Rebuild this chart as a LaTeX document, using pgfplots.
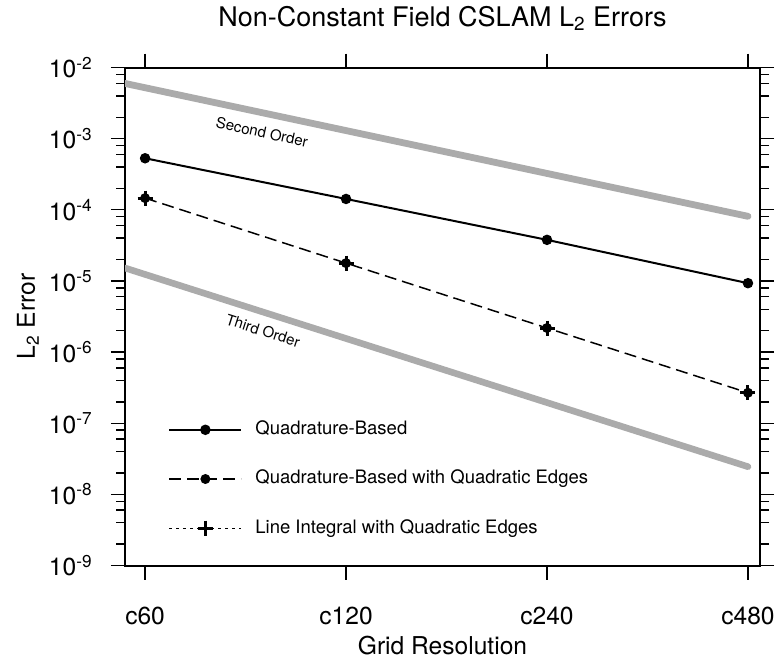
\documentclass[border=0pt]{standalone}
\usepackage{fontspec}
\setmainfont{TeX Gyre Heros}
\usepackage{pgfplots}
\pgfplotsset{compat=1.18}
\definecolor{refgray}{RGB}{171,171,171}

\begin{document}
\begin{tikzpicture}
\path[use as bounding box] (0,0) rectangle (389.5pt,329pt);
\begin{axis}[
  at={(62.5pt,46.25pt)}, anchor=south west,
  scale only axis, width=317.5pt, height=249pt,
  ymode=log, ymin=1e-9, ymax=1e-2,
  xmin=-0.1, xmax=3.06,
  xtick={0,1,2,3}, xticklabels={c60,c120,c240,c480},
  ytick={1e-9,1e-8,1e-7,1e-6,1e-5,1e-4,1e-3,1e-2},
  yticklabels={10\textsuperscript{-9},10\textsuperscript{-8},10\textsuperscript{-7},10\textsuperscript{-6},10\textsuperscript{-5},10\textsuperscript{-4},10\textsuperscript{-3},10\textsuperscript{-2}},
  minor ytick={2e-9,4e-9,6e-9,8e-9,2e-8,4e-8,6e-8,8e-8,2e-7,4e-7,6e-7,8e-7,2e-6,4e-6,6e-6,8e-6,2e-5,4e-5,6e-5,8e-5,2e-4,4e-4,6e-4,8e-4,2e-3,4e-3,6e-3,8e-3},
  tick align=outside,
  xtick pos=both, ytick pos=both,
  major tick length=7pt, minor tick length=4.5pt,
  axis line style={line width=1pt},
  every tick/.style={black, line width=0.7pt},
  ticklabel style={font=\fontsize{12.3}{14}\selectfont},
  xticklabel style={anchor=base, inner sep=0pt, yshift=-22.5pt},
  yticklabel style={anchor=east, inner sep=0pt, xshift=-9pt},
  title={Non-Constant Field CSLAM L\textsubscript{2} Errors},
  title style={font=\fontsize{13.5}{16}\selectfont, at={(axis description cs:0.5,1)}, anchor=base, yshift=14.5pt, inner sep=0pt},
  xlabel={Grid Resolution},
  xlabel style={font=\fontsize{12.3}{14}\selectfont, at={(axis description cs:0.5,0)}, anchor=base, yshift=-44.3pt, inner sep=0pt},
  ylabel={L\textsubscript{2} Error},
  ylabel style={font=\fontsize{12.3}{14}\selectfont, at={(axis description cs:-0.1528,0.5)}, anchor=center, inner sep=0pt},
  legend style={draw=none, fill=none, at={(axis description cs:0.0677,0.1737)}, anchor=west,
    font=\fontsize{9.25}{11}\selectfont, inner sep=0pt,
    nodes={inner sep=0pt, text height=6.7pt, text depth=1.9pt},
    /tikz/row sep=16pt, /tikz/column sep=6.5pt},
  legend cell align=left,
  legend image code/.code={\draw[mark repeat=2, mark phase=2, #1] plot coordinates {(0pt,0pt) (18pt,0pt) (36pt,0pt)};},
]
% reference slopes
\addplot[refgray, line width=3.4pt, line cap=round, forget plot] coordinates {(-0.1,5.97e-3) (3,8.1e-5)};
\addplot[refgray, line width=3.3pt, line cap=round, forget plot] coordinates {(-0.1,1.52e-5) (3,2.45e-8)};
% data
\addplot[black, line width=1pt, mark=*, mark size=2.1pt] coordinates {(0,5.3e-4) (1,1.42e-4) (2,3.78e-5) (3,9.3e-6)};
\addlegendentry{Quadrature-Based}
\addplot[black, line width=0.75pt, dash pattern=on 6pt off 3pt, mark=*, mark size=2.1pt, mark options={solid}] coordinates {(0,1.46e-4) (1,1.78e-5) (2,2.18e-6) (3,2.68e-7)};
\addlegendentry{Quadrature-Based with Quadratic Edges}
\addplot[black, only marks, mark=+, mark size=3.75pt, mark options={solid, line width=1.5pt},
  legend image code/.code={\draw[black, line width=0.6pt, dash pattern=on 1.5pt off 2pt] (0pt,0pt) -- (36pt,0pt);
    \draw[black, mark=+, mark size=3.75pt, mark options={solid, line width=1.5pt}] plot coordinates {(18pt,0pt)};}]
  coordinates {(0,1.46e-4) (1,1.78e-5) (2,2.18e-6) (3,2.68e-7)};
\addlegendentry{Line Integral with Quadratic Edges}
\node[rotate=-12, font=\fontsize{7.5}{9}\selectfont] at (axis cs:0.582,1.24e-3) {Second Order};
\node[rotate=-17.8, font=\fontsize{7.5}{9}\selectfont] at (axis cs:0.587,2.0e-6) {Third Order};
\end{axis}
\end{tikzpicture}
\end{document}
